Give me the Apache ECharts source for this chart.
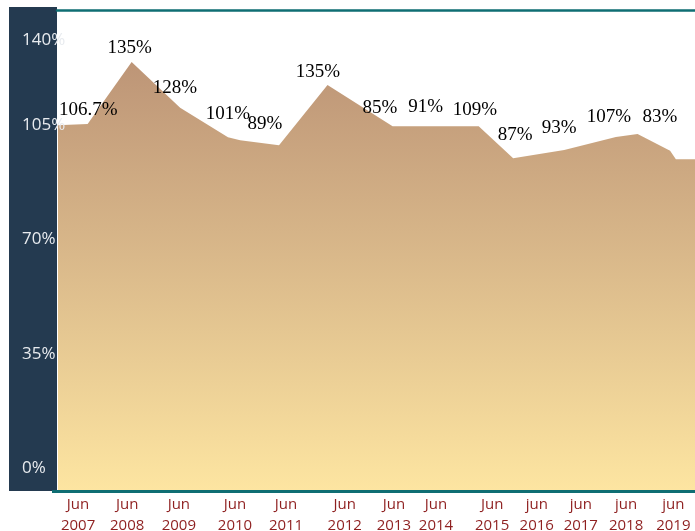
<!DOCTYPE html>
<html>
<head>
<meta charset="utf-8">
<script src="https://cdn.jsdelivr.net/npm/echarts@6/dist/echarts.min.js"></script>
<style>
  html, body { margin: 0; padding: 0; background: #fff; }
  #chart { width: 695px; height: 531px; }
</style>
</head>
<body>
<div id="chart"></div>
<script>
// outline of the shaded area (x = position along the time axis, 0..100; y = percent)
const areaX = [0, 4.8, 11.7, 19.3, 26.8, 28.7, 34.8, 42.4, 52.6, 66.1, 71.5, 79.5, 87.6, 91.0, 96.1, 97.0, 100];
const areaY = [105.0, 105.4, 124.4, 110.4, 101.3, 100.4, 98.9, 117.3, 104.7, 104.7, 94.9, 97.4, 101.4, 102.3, 97.2, 94.6, 94.6];

// value labels written above the area
const valueLabels = ['106.7%', '135%', '128%', '101%', '89%', '135%', '85%', '91%', '109%', '87%', '93%', '107%', '83%'];
const valueX = [4.9, 11.4, 18.5, 26.8, 32.6, 40.9, 50.6, 57.8, 65.5, 71.8, 78.7, 86.5, 94.5];
const valueY = [109.6, 128.6, 116.3, 108.4, 105.3, 121.3, 110.2, 110.5, 109.6, 102.0, 104.1, 107.5, 107.5];

// x axis tick labels
const xLabels = ['Jun\n2007', 'Jun\n2008', 'Jun\n2009', 'Jun\n2010', 'Jun\n2011', 'Jun\n2012', 'Jun\n2013',
  'Jun\n2014', 'Jun\n2015', 'jun\n2016', 'jun\n2017', 'jun\n2018', 'jun\n2019'];
const xTicks = [3.3, 11.0, 19.1, 27.9, 35.9, 45.1, 52.8, 59.4, 68.2, 75.2, 82.1, 89.2, 96.6];

// y axis tick labels
const yLabels = ['0%', '35%', '70%', '105%', '140%'];
const yTicks = [0, 35, 70, 105, 131];

const chart = echarts.init(document.getElementById('chart'));

const option = {
  animation: false,
  backgroundColor: '#fff',
  graphic: [{
    type: 'rect',
    z: -10,
    shape: { x: 9, y: 7, width: 48, height: 484 },
    style: { fill: '#243a50' }
  }, {
    type: 'rect',
    z: -10,
    shape: { x: 52, y: 490, width: 6, height: 3 },
    style: { fill: '#0f6e73' }
  }],
  grid: { left: 57, right: 0, top: 11, bottom: 41, outerBoundsMode: 'none', containLabel: false },
  xAxis: [{
    type: 'value',
    min: 0,
    max: 100,
    offset: 1.5,
    z: 5,
    axisLine: { show: true, onZero: false, lineStyle: { color: '#0f6e73', width: 3 } },
    axisTick: { show: false },
    splitLine: { show: false },
    axisLabel: {
      customValues: xTicks,
      formatter: v => xLabels[xTicks.indexOf(v)] || '',
      color: '#8e1f1f',
      fontFamily: 'Open Sans',
      fontSize: 15,
      lineHeight: 21,
      margin: 3
    }
  }, {
    type: 'value',
    position: 'top',
    min: 0,
    max: 100,
    offset: 1,
    z: 5,
    axisLine: { show: true, onZero: false, lineStyle: { color: '#0f6e73', width: 2.5 } },
    axisTick: { show: false },
    axisLabel: { show: false },
    splitLine: { show: false }
  }],
  yAxis: {
    type: 'value',
    min: -6.7,
    max: 140,
    z: 5,
    axisLine: { show: true, onZero: false, lineStyle: { color: '#ffffff', width: 1 } },
    axisTick: { show: false },
    splitLine: { show: false },
    axisLabel: {
      customValues: yTicks,
      formatter: v => yLabels[yTicks.indexOf(v)] || '',
      color: '#e8ebef',
      fontFamily: 'Open Sans',
      fontSize: 17,
      align: 'left',
      margin: 35
    }
  },
  series: [{
    type: 'line',
    data: areaX.map((x, i) => [x, areaY[i]]),
    symbol: 'none',
    lineStyle: { width: 0 },
    areaStyle: {
      origin: 'start',
      opacity: 1,
      color: new echarts.graphic.LinearGradient(0, 0, 0, 1, [
        { offset: 0, color: '#bd9577' },
        { offset: 0.45, color: '#d9b88a' },
        { offset: 1, color: '#fde5a1' }
      ])
    },
    z: 1
  }, {
    type: 'scatter',
    data: valueX.map((x, i) => [x, valueY[i]]),
    symbolSize: 0,
    itemStyle: { opacity: 1 },
    label: {
      show: true,
      position: 'inside',
      formatter: p => valueLabels[p.dataIndex],
      color: '#000',
      fontFamily: 'Liberation Serif',
      fontSize: 19
    },
    z: 6
  }]
};

chart.setOption(option);
</script>
</body>
</html>
